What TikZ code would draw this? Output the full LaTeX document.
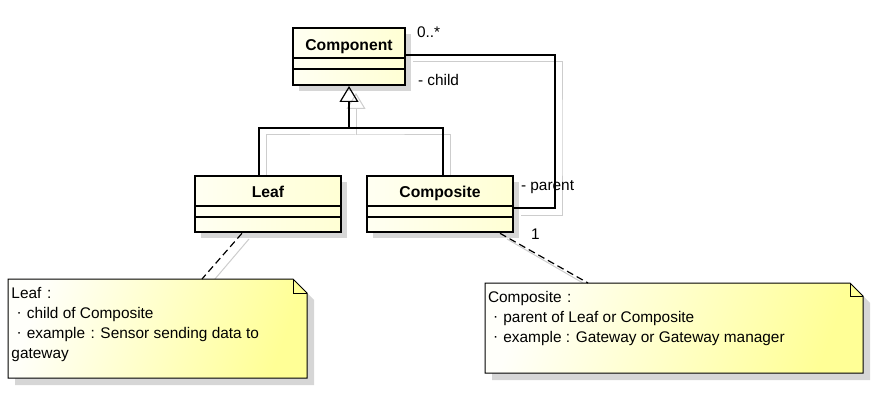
\documentclass[tikz,border=0pt]{standalone}
\usepackage{fontspec}
\setmainfont{Liberation Sans}
\usetikzlibrary{arrows.meta,calc}
\definecolor{clsL}{RGB}{255,255,242}
\definecolor{clsR}{RGB}{255,255,212}
\definecolor{noteL}{RGB}{255,255,250}
\definecolor{noteR}{RGB}{255,255,150}
\definecolor{shadowgray}{RGB}{214,214,214}
\definecolor{shadowline}{RGB}{205,205,205}
\pgfdeclarelayer{shadow}
\pgfdeclarelayer{bg}
\pgfsetlayers{shadow,bg,main}
\newcommand{\fwcolon}{\makebox[15.4pt]{:}}
\newcommand{\fwdot}{\makebox[15.4pt]{\raisebox{0.5pt}{·}}}
\newcommand{\drawnote}[2]{%
  \begin{pgfonlayer}{shadow}
    \fill[shadowgray] ($(#1.north west)+(7,7)$) -- ($(#1.north east)+(7-#2,7)$) -- ($(#1.north east)+(7,7+#2)$) -- ($(#1.south east)+(7,7)$) -- ($(#1.south west)+(7,7)$) -- cycle;
  \end{pgfonlayer}
  \begin{pgfonlayer}{bg}
    \draw[notebox] (#1.north west) -- ($(#1.north east)+(-#2,0)$) -- ($(#1.north east)+(0,#2)$) -- (#1.south east) -- (#1.south west) -- cycle;
    \draw[line width=1pt] ($(#1.north east)+(-#2,0)$) |- ($(#1.north east)+(0,#2)$);
  \end{pgfonlayer}}
\begin{document}
\begin{tikzpicture}[x=1pt,y=-1pt,
  every node/.style={font=\fontsize{15.4}{20}\selectfont, inner sep=0pt, outer sep=0pt},
  classbox/.style={draw=black, line width=2.6pt, left color=clsL, right color=clsR},
  classname/.style={font=\fontsize{15.7}{20}\selectfont\bfseries, anchor=base},
  compline/.style={line width=1.2pt},
  notebox/.style={draw=black, line width=1pt, left color=noteL, right color=noteR, shading angle=70},
  notetext/.style={anchor=north west, align=left},
  gen/.style={line width=1.2pt},
  genhead/.style={line width=1.2pt, -{Triangle[open, length=16pt, width=19pt]}, shorten >=1pt},
  assoc/.style={line width=1.2pt},
  notelink/.style={line width=1.2pt, dash pattern=on 7pt off 4pt},
  shadowpath/.style={draw=shadowline, line width=1pt},
  mult/.style={anchor=base west}]

\useasboundingbox (0,0) rectangle (876,401);

% class nodes
\node[classbox, minimum width=112pt, minimum height=57pt] (comp) at (349,56.5) {};
\node[classbox, minimum width=146pt, minimum height=56pt] (leaf) at (268,204) {};
\node[classbox, minimum width=146pt, minimum height=56pt] (compo) at (440,204) {};

\begin{pgfonlayer}{shadow}
  \foreach \n in {comp,leaf,compo}
    \fill[shadowgray] ($(\n.north west)+(6,6)$) rectangle ($(\n.south east)+(6,6)$);
\end{pgfonlayer}

\node[classname] (compname) at ($(comp.north)+(0,22.5)$) {Component};
\node[classname] (leafname) at ($(leaf.north)+(0,21.5)$) {Leaf};
\node[classname] (componame) at ($(compo.north)+(0,21.5)$) {Composite};

\draw[compline] ($(comp.west)+(0,1.5)$) -- ($(comp.east)+(0,1.5)$);
\draw[compline] ($(comp.west)+(0,12.5)$) -- ($(comp.east)+(0,12.5)$);
\draw[compline] ($(leaf.west)+(0,2)$) -- ($(leaf.east)+(0,2)$);
\draw[compline] ($(leaf.west)+(0,13)$) -- ($(leaf.east)+(0,13)$);
\draw[compline] ($(compo.west)+(0,2)$) -- ($(compo.east)+(0,2)$);
\draw[compline] ($(compo.west)+(0,13)$) -- ($(compo.east)+(0,13)$);

% note nodes
\node[minimum width=299pt, minimum height=99pt] (lnote) at (157.5,328.5) {};
\node[minimum width=378pt, minimum height=90pt] (cnote) at (674,328) {};
\drawnote{lnote}{14}
\drawnote{cnote}{13}
\node[notetext] (ltext) at ($(lnote.north west)+(3.5,8)$)
  {Leaf\fwcolon\\\fwdot child of Composite\\\fwdot example\fwcolon Sensor sending data to\\gateway};
\node[notetext] (ctext) at ($(cnote.north west)+(3,8)$)
  {Composite\fwcolon\\\fwdot parent of Leaf or Composite\\\fwdot example : Gateway or Gateway manager};

% coordinates for connectors
\coordinate (join) at (349,128);
\coordinate (loop) at (555,130);

% connector shadows
\begin{pgfonlayer}{shadow}
\begin{scope}[transform canvas={xshift=7pt,yshift=-7pt}]
  \draw[shadowpath] ($(leaf.north)+(-9,0)$) |- (join) -| ($(compo.north)+(3,0)$);
  \draw[shadowpath, -{Triangle[open, length=16pt, width=19pt]}, shorten >=1pt] (join) -- (comp.south);
  \draw[shadowpath] ($(comp.north east)+(1.3,27)$) -| (loop) |- ($(compo.east)+(1.3,4)$);
  \draw[shadowpath] ($(leaf.south)+(-26,0)$) -- ($(lnote.north)+(44.5,0)$);
  \draw[shadowpath] ($(compo.south)+(60,0)$) -- ($(cnote.north)+(-86,0)$);
\end{scope}
\end{pgfonlayer}

% generalization
\draw[gen] ($(leaf.north)+(-9,-1.3)$) |- (join) -| ($(compo.north)+(3,-1.3)$);
\draw[genhead] (join) -- (comp.south);

% self association
\draw[assoc] ($(comp.north east)+(1.3,27)$) -| (loop) |- ($(compo.east)+(1.3,4)$);
\node[mult] (m1) at (417,38) {0..*};
\node[mult] (r1) at (418,86) {- child};
\node[mult] (r2) at (521,191) {- parent};
\node[mult] (m2) at (531,239) {1};

% note links
\draw[notelink] ($(leaf.south)+(-26,1.3)$) -- ($(lnote.north)+(44.5,0)$);
\draw[notelink] ($(compo.south)+(60,1.3)$) -- ($(cnote.north)+(-86,0)$);
\end{tikzpicture}
\end{document}
